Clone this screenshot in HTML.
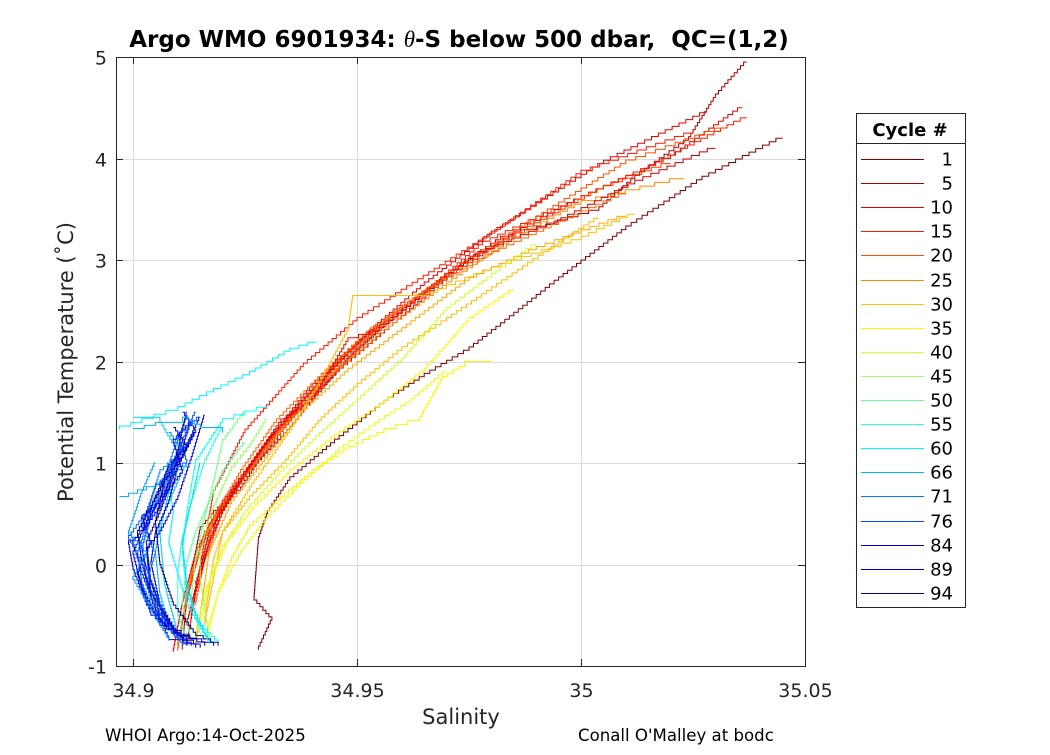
<!DOCTYPE html>
<html><head><meta charset="utf-8"><style>
body{margin:0;background:#fff;font-family:"Liberation Sans",sans-serif}
</style></head><body>
<svg id="chart" width="1050" height="750" xmlns="http://www.w3.org/2000/svg" font-family="DejaVu Sans, Liberation Sans, sans-serif">
<rect width="1050" height="750" fill="#fff"/>
<g id="grid"></g>
<g id="series"></g>
<rect x="116.5" y="57.5" width="689" height="609" fill="none" stroke="#262626" stroke-width="1"/>
<g id="ticks" font-size="19" fill="#262626"></g>
<text x="459" y="47" text-anchor="middle" font-size="23" font-weight="bold" fill="#000" style="white-space:pre">Argo WMO 6901934: <tspan font-style="italic" font-weight="normal" font-family="Liberation Serif, serif">θ</tspan>-S below 500 dbar,  QC=(1,2)</text>
<text x="461" y="724" text-anchor="middle" font-size="21" fill="#262626">Salinity</text>
<text transform="translate(73,362) rotate(-90)" text-anchor="middle" font-size="21" fill="#262626">Potential Temperature (˚C)</text>
<text x="105" y="741" font-size="16.6" fill="#000">WHOI Argo:14-Oct-2025</text>
<text x="578" y="741" font-size="16.6" fill="#000">Conall O'Malley at bodc</text>
<g id="legend">
<rect x="856.5" y="113.5" width="109" height="494" fill="#fff" stroke="#262626"/>
<line x1="856" y1="143.5" x2="965" y2="143.5" stroke="#262626"/>
<text x="910" y="136" text-anchor="middle" font-size="18" font-weight="bold" fill="#000">Cycle #</text>
</g>
</svg>
<script>
var legendCycles=[1,5,10,15,20,25,30,35,40,45,50,55,60,66,71,76,84,89,94];
var xTicks=[34.9,34.95,35,35.05];
var xTickLabels=["34.9","34.95","35","35.05"];
var yTicks=[-1,0,1,2,3,4,5];
var yTickLabels=["-1","0","1","2","3","4","5"];
var profCycle=[];var profS=[];var profT=[];
function addProf(c,s,t){profCycle.push(c);profS.push(s);profT.push(t);}
addProf(1,[35.045,35.027,35.01,34.995,34.985,34.975,34.965,34.957,34.945,34.935,34.930,34.928,34.927,34.931,34.928],[4.2,3.79,3.3,2.8,2.45,2.11,1.85,1.62,1.2,0.83,0.5,0.24,-0.35,-0.55,-0.84]);
addProf(5,[35.037,35.03,35.024,35.012,35.004,34.99,34.982,34.972,34.964,34.955,34.948,34.94,34.935,34.928,34.924,34.918,34.915,34.912,34.911],[4.95,4.6,4.18,3.8,3.49,3.3,3.2,2.9,2.61,2.3,2.01,1.6,1.33,1.0,0.73,0.5,0.34,-0.35,-0.84]);
addProf(10,[35.036,35.02,35.0,34.985,34.97,34.958,34.946,34.936,34.926,34.918,34.914,34.911,34.909],[4.5,4.0,3.6,3.25,2.8,2.35,1.9,1.45,0.9,0.45,0.1,-0.4,-0.86]);
addProf(15,[35.037,35.015,34.995,34.978,34.962,34.95,34.94,34.93,34.922,34.916,34.913,34.91],[4.4,3.9,3.5,3.15,2.55,2.1,1.65,1.2,0.7,0.3,-0.2,-0.8]);
addProf(20,[35.032,35.01,34.99,34.975,34.96,34.948,34.937,34.928,34.92,34.915,34.912,34.91],[4.3,3.95,3.4,3.0,2.5,2.05,1.55,1.05,0.55,0.15,-0.3,-0.85]);
addProf(25,[35.023,35.0,34.985,34.97,34.955,34.943,34.933,34.924,34.917,34.913,34.91],[3.8,3.55,3.2,2.75,2.25,1.8,1.3,0.8,0.35,-0.1,-0.8]);
addProf(10,[35.028,35.005,34.98,34.965,34.952,34.94,34.93,34.92,34.914],[4.45,3.95,3.25,2.75,2.25,1.75,1.2,0.6,-0.2]);
addProf(15,[35.025,35.0,34.982,34.966,34.95,34.938,34.925,34.918,34.913],[4.25,3.85,3.3,2.85,2.4,1.95,1.3,0.7,-0.5]);
addProf(8,[35.03,35.012,34.994,34.977,34.963,34.951,34.941,34.931,34.923,34.917,34.912],[4.1,3.75,3.35,3.05,2.6,2.2,1.75,1.25,0.75,0.3,-0.6]);
addProf(18,[35.02,35.005,34.988,34.972,34.958,34.946,34.936,34.927,34.92,34.915],[3.95,3.7,3.3,2.9,2.45,2.0,1.5,1.0,0.5,-0.1]);
addProf(22,[35.01,34.995,34.98,34.966,34.953,34.942,34.932,34.924,34.918,34.914],[3.65,3.35,3.05,2.7,2.3,1.85,1.4,0.9,0.45,-0.4]);
addProf(12,[34.955,34.948,34.94,34.933,34.926,34.92,34.917,34.914,34.912],[2.3,2.2,1.6,1.4,0.95,0.5,0.2,-0.3,-0.8]);
addProf(30,[35.004,34.995,34.98,34.97,34.96,34.95,34.942,34.934,34.926,34.92,34.918,34.916],[3.41,3.15,2.7,2.4,2.11,1.75,1.42,1.0,0.64,0.3,0.04,-0.55]);
addProf(30,[35.012,35.0,34.98,34.966,34.949,34.948,34.942,34.935,34.927,34.92,34.916],[3.45,3.2,2.9,2.65,2.61,2.3,1.8,1.3,0.8,0.3,-0.6]);
addProf(28,[35.01,34.99,34.975,34.96,34.948,34.938,34.93,34.922,34.917,34.914],[3.43,3.1,2.8,2.3,1.9,1.5,1.05,0.6,0.1,-0.8]);
addProf(35,[34.98,34.974,34.969,34.964,34.956,34.948,34.94,34.933,34.926,34.922,34.919,34.917],[2.0,1.95,1.82,1.42,1.3,1.13,0.9,0.64,0.35,0.04,-0.3,-0.65]);
addProf(40,[34.99,34.982,34.97,34.96,34.95,34.94,34.932,34.925,34.92,34.916,34.914],[3.15,2.9,2.5,2.0,1.6,1.2,0.85,0.5,0.15,-0.3,-0.7]);
addProf(35,[34.985,34.975,34.965,34.955,34.945,34.935,34.927,34.921,34.917,34.915],[2.7,2.4,1.9,1.55,1.25,0.9,0.55,0.2,-0.2,-0.6]);
addProf(38,[34.97,34.962,34.955,34.947,34.938,34.93,34.924,34.919,34.916],[1.9,1.6,1.4,1.15,0.8,0.45,0.1,-0.3,-0.75]);
addProf(45,[34.93,34.926,34.922,34.919,34.917,34.915,34.915,34.917],[1.43,1.15,0.93,0.65,0.44,0.1,-0.15,-0.74]);
addProf(48,[34.925,34.92,34.918,34.916,34.914,34.913,34.915],[1.5,1.2,0.8,0.45,0.05,-0.35,-0.7]);
addProf(50,[34.925,34.92,34.917,34.914,34.912,34.911,34.913],[1.2,0.9,0.6,0.3,0.0,-0.4,-0.75]);
addProf(55,[34.92,34.916,34.913,34.911,34.91,34.91,34.912],[1.35,1.0,0.6,0.25,-0.1,-0.5,-0.78]);
addProf(60,[34.941,34.935,34.926,34.918,34.91,34.902,34.897],[2.19,2.1,1.87,1.7,1.52,1.4,1.33]);
addProf(60,[34.91,34.908,34.909,34.908,34.91,34.912,34.916,34.918],[1.1,0.8,0.5,0.2,-0.1,-0.4,-0.7,-0.8]);
addProf(58,[34.93,34.92,34.914,34.912,34.911,34.912,34.915,34.919],[1.55,1.4,1.0,0.5,0.1,-0.3,-0.6,-0.78]);
addProf(66,[34.897,34.905,34.912,34.909,34.906,34.905,34.906,34.908,34.912],[0.67,0.8,1.0,0.7,0.4,0.1,-0.3,-0.6,-0.78]);
addProf(64,[34.9,34.906,34.91,34.908,34.906,34.907,34.91],[1.45,1.4,1.1,0.7,0.3,-0.2,-0.7]);
addProf(71,[34.912,34.909,34.906,34.903,34.901,34.902,34.905,34.91],[1.45,1.1,0.7,0.35,0.1,-0.2,-0.5,-0.75]);
addProf(76,[34.914,34.911,34.908,34.904,34.902,34.903,34.906,34.912],[1.5,1.2,0.85,0.45,0.15,-0.15,-0.5,-0.8]);
addProf(80,[34.913,34.91,34.907,34.903,34.9,34.902,34.905,34.91],[1.4,1.0,0.7,0.4,0.2,-0.1,-0.45,-0.7]);
addProf(84,[34.916,34.913,34.91,34.906,34.903,34.904,34.908,34.914],[1.47,1.03,0.64,0.3,0.14,-0.35,-0.74,-0.82]);
addProf(86,[34.911,34.909,34.906,34.902,34.899,34.9,34.903,34.908],[1.2,0.9,0.55,0.3,0.2,-0.05,-0.4,-0.65]);
addProf(89,[34.914,34.91,34.908,34.905,34.904,34.906,34.91,34.918],[1.3,0.95,0.6,0.3,0.0,-0.4,-0.7,-0.8]);
addProf(92,[34.915,34.912,34.909,34.906,34.903,34.904,34.907,34.912],[1.45,1.15,0.85,0.5,0.2,-0.2,-0.55,-0.78]);
addProf(94,[34.912,34.91,34.907,34.905,34.906,34.909,34.914,34.919],[1.5,1.1,0.8,0.4,0.0,-0.4,-0.7,-0.8]);
addProf(66,[34.9,34.905,34.911,34.915,34.92],[1.34,1.4,1.45,1.35,1.3]);
addProf(70,[34.908,34.911,34.906,34.904,34.902,34.905,34.903,34.907,34.911],[1.3,1.1,0.9,0.6,0.35,0.1,-0.2,-0.5,-0.8]);
addProf(74,[34.915,34.91,34.912,34.905,34.903,34.899,34.902,34.904,34.909],[1.45,1.25,1.0,0.75,0.5,0.25,0.0,-0.35,-0.7]);
addProf(78,[34.911,34.914,34.909,34.907,34.904,34.901,34.903,34.906,34.91],[1.5,1.3,1.0,0.8,0.55,0.3,-0.05,-0.4,-0.75]);
addProf(82,[34.913,34.909,34.911,34.906,34.902,34.904,34.901,34.904,34.913],[1.4,1.2,0.9,0.6,0.45,0.2,-0.1,-0.5,-0.8]);
addProf(88,[34.909,34.912,34.908,34.905,34.903,34.9,34.902,34.906,34.915],[1.35,1.15,0.95,0.65,0.4,0.1,-0.25,-0.6,-0.82]);
addProf(90,[34.914,34.911,34.907,34.904,34.901,34.902,34.904,34.909,34.916],[1.3,1.05,0.8,0.55,0.3,0.0,-0.3,-0.65,-0.8]);
addProf(68,[34.905,34.902,34.899,34.903,34.9,34.904,34.908],[1.0,0.7,0.3,0.1,-0.15,-0.45,-0.75]);
addProf(62,[34.915,34.913,34.911,34.912,34.914,34.917],[1.0,0.6,0.2,-0.2,-0.5,-0.78]);

var X0=133,XS=4480,Y0=57,YS=101.5;
function xs(s){return X0+(s-34.9)*XS;}
function ys(t){return Y0+(5-t)*YS;}
function jet(c){var v=(94-c)/93;var r=Math.max(0,Math.min(1,1.5-Math.abs(4*v-3))),g=Math.max(0,Math.min(1,1.5-Math.abs(4*v-2))),b=Math.max(0,Math.min(1,1.5-Math.abs(4*v-1)));return "rgb("+Math.round(r*255)+","+Math.round(g*255)+","+Math.round(b*255)+")";}
var NS="http://www.w3.org/2000/svg";
function mk(tag,attrs,parent){var e=document.createElementNS(NS,tag);for(var k in attrs){e.setAttribute(k,attrs[k]);}parent.appendChild(e);return e;}
var gridG=document.getElementById('grid'),ticksG=document.getElementById('ticks'),seriesG=document.getElementById('series'),legendG=document.getElementById('legend');
try{
xTicks.forEach(function(v,i){var x=Math.round(xs(v))+0.5;
 var g=mk('line',{x1:x,x2:x,y1:57,y2:666,stroke:'#dcdcdc'},gridG);
 
 
 mk('line',{x1:x,x2:x,y1:666,y2:659,stroke:'#262626'},ticksG);
 mk('line',{x1:x,x2:x,y1:57,y2:64,stroke:'#262626'},ticksG);
 var t=mk('text',{x:x,y:697,'text-anchor':'middle'},ticksG);t.textContent=xTickLabels[i];
 
 });
yTicks.forEach(function(v,i){var y=Math.round(ys(v))+0.5;
 var g=mk('line',{x1:116,x2:805,y1:y,y2:y,stroke:'#dcdcdc'},gridG);
 
 
 mk('line',{x1:116,x2:123,y1:y,y2:y,stroke:'#262626'},ticksG);
 mk('line',{x1:805,x2:798,y1:y,y2:y,stroke:'#262626'},ticksG);
 var t=mk('text',{x:107,y:y+7,'text-anchor':'end'},ticksG);t.textContent=yTickLabels[i];
 
 });
}catch(e){}
try{
for(var i=0;i<profCycle.length;i++){
 var c=profCycle[i],S=profS[i],T=profT[i],pts=[];
 for(var j=0;j<S.length&&j<T.length;j++){
  var x=xs(S[j]),y=ys(T[j]);
  if(j===0){pts.push(x.toFixed(1)+','+y.toFixed(1));continue;}
  var px=xs(S[j-1]),py=ys(T[j-1]);
  var n=Math.max(1,Math.round(Math.abs(y-py)/3.5));
  for(var k=1;k<=n;k++){
   var xx=px+(x-px)*k/n,y0=py+(y-py)*(k-1)/n,y1=py+(y-py)*k/n;
   pts.push(xx.toFixed(1)+','+y0.toFixed(1));
   pts.push(xx.toFixed(1)+','+y1.toFixed(1));
  }
 }
 var p=mk('polyline',{points:pts.join(' '),fill:'none',stroke:jet(c),'stroke-width':1},seriesG);
 
 
}
}catch(e){}
try{
legendCycles.forEach(function(c,i){var y=Math.round(159+i*24.1)+0.5;
 var l=mk('line',{x1:861,x2:924,y1:y,y2:y,stroke:jet(c)},legendG);
 
 
 var t=mk('text',{x:953,y:y+6,'text-anchor':'end','font-size':18,fill:'#000'},legendG);t.textContent=c;
 
 });
}catch(e){}
</script>
</body></html>
